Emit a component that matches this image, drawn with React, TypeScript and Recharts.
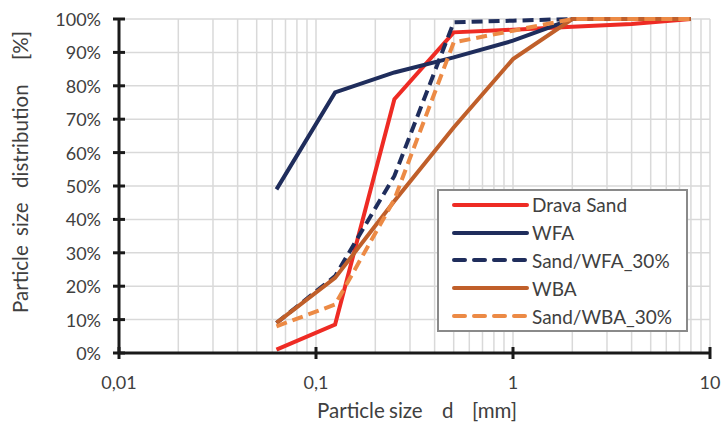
import React from 'react'
import {
  LineChart,
  Line,
  XAxis,
  YAxis,
  CartesianGrid,
  ReferenceLine,
  Legend,
  Label
} from 'recharts'

// sieve sizes [mm] and passing percentages
const sieveSizes = [0.063, 0.125, 0.25, 0.5, 1, 2, 4, 8]
const dravaSand = [1, 8.5, 76, 96, 96.8, 97.7, 98.5, 100]
const wfa = [49, 78, 84, 88.5, 93.5, 100, 100, 100]
const sandWfa30 = [9, 23, 53, 99, 99.5, 100, 100, 100]
const wba = [9, 22.5, 45.5, 67.5, 88, 100, 100, 100]
const sandWba30 = [8, 14.5, 46, 93, 96.5, 100, 100, 100]

const xTicks = [0.01, 0.1, 1, 10]
const yTicks = [0, 10, 20, 30, 40, 50, 60, 70, 80, 90, 100]
const xGridLines = [
  0.02, 0.03, 0.04, 0.05, 0.06, 0.07, 0.08, 0.09, 0.1,
  0.2, 0.3, 0.4, 0.5, 0.6, 0.7, 0.8, 0.9, 1,
  2, 3, 4, 5, 6, 7, 8, 9, 10
]

const series = [
  { key: 'drava', name: 'Drava Sand', values: dravaSand, color: '#ee2b24', dash: undefined },
  { key: 'wfa', name: 'WFA', values: wfa, color: '#1f2d5c', dash: undefined },
  { key: 'sandWfa', name: 'Sand/WFA_30%', values: sandWfa30, color: '#1f2d5c', dash: '11 6' },
  { key: 'wba', name: 'WBA', values: wba, color: '#c05f2a', dash: undefined },
  { key: 'sandWba', name: 'Sand/WBA_30%', values: sandWba30, color: '#ec8a45', dash: '11 6' }
]

const data = sieveSizes.map((d, i) => {
  const row: Record<string, number> = { d }
  series.forEach(s => { row[s.key] = s.values[i] })
  return row
})

const FONT = 'Lato, "Open Sans", sans-serif'
const TEXT = '#404040'
const AXIS = '#1a1a1a'

function YTick(props: any) {
  const { x, y, payload } = props
  return (
    <g>
      <line x1={x + 12} x2={x + 24} y1={y} y2={y} stroke={AXIS} strokeWidth={3} />
      <text x={x} y={y} textAnchor="end" dominantBaseline="central" fill={TEXT} fontSize={18} fontFamily={FONT}>
        {payload.value + '%'}
      </text>
    </g>
  )
}

function XTick(props: any) {
  const { x, y, payload } = props
  return (
    <g>
      <line x1={x} x2={x} y1={y - 18} y2={y - 6} stroke={AXIS} strokeWidth={3} />
      <text x={x} y={y + 24} textAnchor="middle" fill={TEXT} fontSize={18} fontFamily={FONT}>
        {String(payload.value).replace('.', ',')}
      </text>
    </g>
  )
}

function LegendBox() {
  return (
    <div
      style={{
        width: 251,
        height: 143,
        boxSizing: 'border-box',
        border: '2px solid #8a8a8a',
        background: '#fff',
        fontFamily: FONT,
        fontSize: 19,
        color: TEXT
      }}
    >
      {series.map(s => (
        <div key={s.key} style={{ display: 'flex', alignItems: 'center', height: 27.8 }}>
          <svg width={80} height={10} style={{ marginLeft: 13 }}>
            <line
              x1={2}
              x2={75}
              y1={5}
              y2={5}
              stroke={s.color}
              strokeWidth={4}
              strokeLinecap="round"
              strokeDasharray={s.dash ? '11 9' : undefined}
            />
          </svg>
          <span style={{ whiteSpace: 'nowrap' }}>{s.name}</span>
        </div>
      ))}
    </div>
  )
}

export default function App() {
  return (
    <div style={{ position: 'absolute', left: 0, top: 0 }}>
      <LineChart width={722} height={422} data={data} margin={{ top: 19, right: 12, bottom: 0, left: 0 }}>
        <CartesianGrid vertical={false} stroke="#d9d9d9" strokeWidth={1.5} />
        {xGridLines.map(v => (
          <ReferenceLine key={v} x={v} stroke="#d9d9d9" strokeWidth={1.5} />
        ))}
        <XAxis
          dataKey="d"
          type="number"
          scale="log"
          domain={[0.01, 10]}
          ticks={xTicks}
          allowDataOverflow
          height={69}
          tickSize={0}
          tickMargin={12}
          tick={<XTick />}
          axisLine={{ stroke: AXIS, strokeWidth: 3 }}
        >
          <Label
            content={() => (
              <text y={418} fill={TEXT} fontSize={20.5} fontFamily={FONT}>
                <tspan x={317}>Particle</tspan>
                <tspan x={389}>size</tspan>
                <tspan x={442}>d</tspan>
                <tspan x={472}>[mm]</tspan>
              </text>
            )}
          />
        </XAxis>
        <YAxis
          type="number"
          domain={[0, 100]}
          ticks={yTicks}
          width={119}
          tickSize={0}
          tickMargin={18}
          tick={<YTick />}
          axisLine={{ stroke: AXIS, strokeWidth: 3 }}
        >
          <Label
            content={() => (
              <text
                transform="translate(20, 0) rotate(-90)"
                y={0}
                dominantBaseline="central"
                fill={TEXT}
                fontSize={20.5}
                fontFamily={FONT}
              >
                <tspan x={-313}>Particle</tspan>
                <tspan x={-236}>size</tspan>
                <tspan x={-188}>distribution</tspan>
                <tspan x={-60}>[%]</tspan>
              </text>
            )}
          />
        </YAxis>
        <Legend
          layout="horizontal"
          verticalAlign="middle"
          content={<LegendBox />}
          wrapperStyle={{ left: 437, top: 189, width: 251, height: 143 }}
        />
        {series.map(s => (
          <Line
            key={s.key}
            dataKey={s.key}
            name={s.name}
            type="linear"
            stroke={s.color}
            strokeWidth={4}
            strokeDasharray={s.dash}
            dot={false}
            activeDot={false}
            isAnimationActive={false}
          />
        ))}
      </LineChart>
    </div>
  )
}
